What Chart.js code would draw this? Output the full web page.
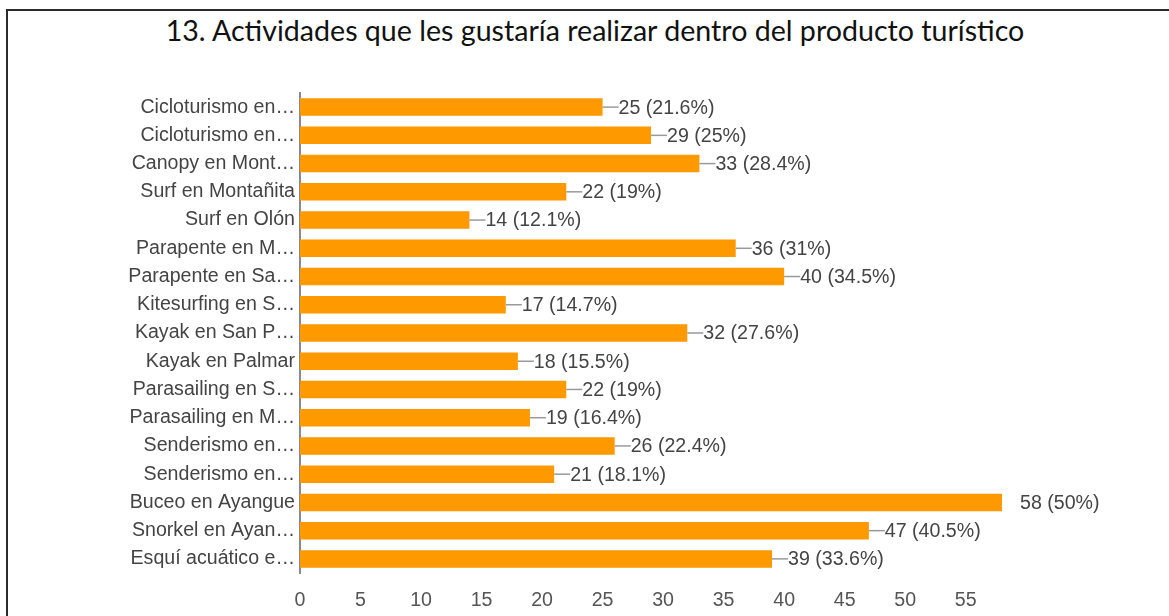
<!DOCTYPE html>
<html>
<head>
<meta charset="utf-8">
<script src="https://cdn.jsdelivr.net/npm/chart.js@4.4.1/dist/chart.umd.min.js"></script>
<style>
  html, body { margin: 0; padding: 0; background: #fff; }
  #wrap { position: relative; width: 1169px; height: 616px; overflow: hidden; }
  #frame {
    position: absolute; left: 6px; top: 9px; right: -10px; bottom: -10px;
    border-top: 2px solid #2b2b2b; border-left: 2px solid #2b2b2b;
  }
  #title {
    position: absolute; left: 0; top: 13px; width: 1190px; text-align: center;
    font-family: Lato, "Open Sans", sans-serif; font-size: 28.6px; color: #111; white-space: nowrap;
  }
  #chart { position: absolute; left: 0; top: 0; }
</style>
</head>
<body>
<div id="wrap">
  <div id="frame"></div>
  <div id="title">13. Actividades que les gustaría realizar dentro del producto turístico</div>
  <canvas id="chart" width="1169" height="616"></canvas>
</div>
<script>
const categories = [
  "Cicloturismo en…",
  "Cicloturismo en…",
  "Canopy en Mont…",
  "Surf en Montañita",
  "Surf en Olón",
  "Parapente en M…",
  "Parapente en Sa…",
  "Kitesurfing en S…",
  "Kayak en San P…",
  "Kayak en Palmar",
  "Parasailing en S…",
  "Parasailing en M…",
  "Senderismo en…",
  "Senderismo en…",
  "Buceo en Ayangue",
  "Snorkel en Ayan…",
  "Esquí acuático e…"
];
const counts = [25, 29, 33, 22, 14, 36, 40, 17, 32, 18, 22, 19, 26, 21, 58, 47, 39];
const percents = ["21.6", "25", "28.4", "19", "12.1", "31", "34.5", "14.7", "27.6", "15.5", "19", "16.4", "22.4", "18.1", "50", "40.5", "33.6"];
const xTicks = [0, 5, 10, 15, 20, 25, 30, 35, 40, 45, 50, 55];
const xMax = 58;

const LABEL_FONT = "\"Liberation Sans\", Arial, sans-serif";

// etiquetas "—25 (21.6%)" a la derecha de cada barra
const barValueLabels = {
  id: "barValueLabels",
  afterDatasetsDraw(chart) {
    const { ctx, chartArea } = chart;
    const meta = chart.getDatasetMeta(0);
    ctx.save();
    ctx.font = `19.6px ${LABEL_FONT}`;
    ctx.textBaseline = "middle";
    ctx.textAlign = "left";
    meta.data.forEach((bar, i) => {
      const atEdge = bar.x >= chartArea.right - 1;
      if (!atEdge) {
        ctx.strokeStyle = "#9a9a9a";
        ctx.lineWidth = 1.5;
        ctx.beginPath();
        ctx.moveTo(bar.x, bar.y);
        ctx.lineTo(bar.x + 16, bar.y);
        ctx.stroke();
      }
      ctx.fillStyle = "#444";
      ctx.fillText(`${counts[i]} (${percents[i]}%)`, bar.x + (atEdge ? 18 : 16), bar.y + 1);
    });
    ctx.restore();
  }
};

new Chart(document.getElementById("chart"), {
  type: "bar",
  data: {
    labels: categories,
    datasets: [{
      data: counts,
      backgroundColor: "#ff9900",
      borderWidth: 0,
      barPercentage: 0.62,
      categoryPercentage: 1
    }]
  },
  options: {
    indexAxis: "y",
    responsive: false,
    animation: false,
    layout: { padding: { left: 0, right: 167, top: 93, bottom: 0 } },
    plugins: {
      legend: { display: false },
      title: { display: false },
      tooltip: { enabled: false }
    },
    scales: {
      x: {
        min: 0,
        max: xMax,
        afterBuildTicks: (scale) => { scale.ticks = xTicks.map((v) => ({ value: v })); },
        afterFit: (scale) => { scale.height = 43; },
        grid: { display: false, drawTicks: false },
        border: { display: false },
        ticks: { color: "#555", padding: 16, font: { family: LABEL_FONT, size: 19.6 } }
      },
      y: {
        afterFit: (scale) => { scale.width = 300; },
        grid: { display: false, drawTicks: false },
        border: { display: true, color: "#8a8a8a", width: 2 },
        ticks: { color: "#444", padding: 5, autoSkip: false, font: { family: LABEL_FONT, size: 19.6 } }
      }
    }
  },
  plugins: [barValueLabels]
});
</script>
</body>
</html>
